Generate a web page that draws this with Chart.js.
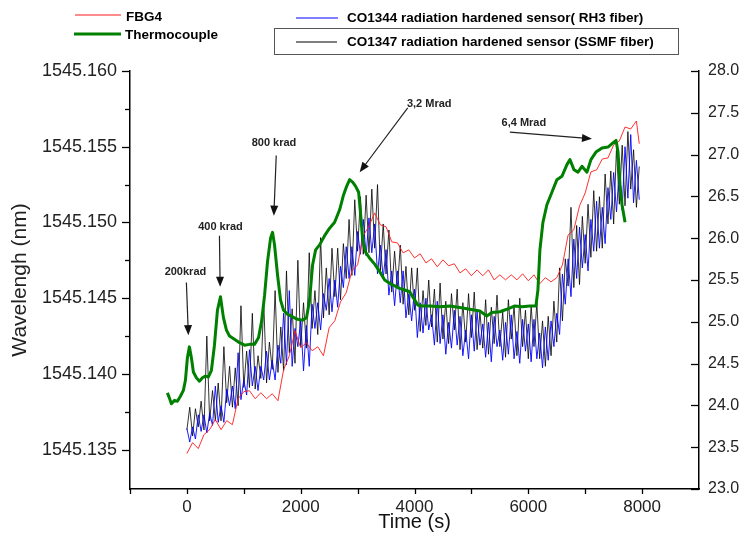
<!DOCTYPE html>
<html><head><meta charset="utf-8">
<script src="https://cdn.jsdelivr.net/npm/chart.js@4/dist/chart.umd.min.js"></script>
<style>html,body{margin:0;padding:0;background:#fff;}#wrap{width:744px;height:538px;}</style>
</head><body><div id="wrap"><canvas id="c" width="744" height="538"></canvas></div>
<script>
// ---------- DATA ----------
const timeFast = [0,50,100,150,200,250,300,350,400,450,500,550,600,650,700,750,800,850,900,950,
1000,1050,1100,1150,1200,1250,1300,1350,1400,1450,1500,1550,1600,1650,1700,1750,1800,1850,1900,1950,
2000,2050,2100,2150,2200,2250,2300,2350,2400,2450,2500,2550,2600,2650,2700,2750,2800,2850,2900,2950,
3000,3050,3100,3150,3200,3250,3300,3350,3400,3450,3500,3550,3600,3650,3700,3750,3800,3850,3900,3950,
4000,4050,4100,4150,4200,4250,4300,4350,4400,4450,4500,4550,4600,4650,4700,4750,4800,4850,4900,4950,
5000,5050,5100,5150,5200,5250,5300,5350,5400,5450,5500,5550,5600,5650,5700,5750,5800,5850,5900,5950,
6000,6050,6100,6150,6200,6250,6300,6350,6400,6450,6500,6550,6600,6650,6700,6750,6800,6850,6900,6950,
7000,7050,7100,7150,7200,7250,7300,7350,7400,7450,7500,7550,7600,7650,7700,7750,7800,7850,7900,7950];

const co1344 = [1545.1364,1545.1355,1545.1365,1545.1357,1545.1373,1545.1362,1545.1373,1545.1361,1545.1374,1545.1366,
1545.1392,1545.1368,1545.1379,1545.1368,1545.1390,1545.1379,1545.1392,1545.1377,1545.1414,1545.1383,
1545.1396,1545.1386,1545.1416,1545.1392,1545.1405,1545.1389,1545.1405,1545.1396,1545.1415,1545.1396,
1545.1409,1545.1396,1545.1419,1545.1407,1545.1440,1545.1406,1545.1455,1545.1405,1545.1430,1545.1418,
1545.1435,1545.1402,1545.1432,1545.1405,1545.1446,1545.1430,1545.1447,1545.1429,1545.1453,1545.1442,
1545.1463,1545.1441,1545.1462,1545.1444,1545.1471,1545.1457,1545.1484,1545.1463,1545.1484,1545.1465,
1545.1494,1545.1479,1545.1502,1545.1478,1545.1503,1545.1480,1545.1499,1545.1466,1545.1485,1545.1463,
1545.1482,1545.1452,1545.1468,1545.1445,1545.1468,1545.1447,1545.1468,1545.1437,1545.1453,1545.1435,
1545.1456,1545.1424,1545.1447,1545.1427,1545.1450,1545.1429,1545.1439,1545.1419,1545.1448,1545.1420,
1545.1439,1545.1413,1545.1434,1545.1417,1545.1442,1545.1419,1545.1438,1545.1412,1545.1429,1545.1410,
1545.1439,1545.1415,1545.1441,1545.1419,1545.1433,1545.1411,1545.1434,1545.1408,1545.1438,1545.1418,
1545.1429,1545.1409,1545.1434,1545.1413,1545.1439,1545.1410,1545.1428,1545.1407,1545.1436,1545.1415,
1545.1433,1545.1408,1545.1436,1545.1410,1545.1427,1545.1404,1545.1431,1545.1409,1545.1435,1545.1418,
1545.1440,1545.1426,1545.1466,1545.1446,1545.1476,1545.1451,1545.1489,1545.1463,1545.1497,1545.1470,
1545.1492,1545.1468,1545.1502,1545.1481,1545.1514,1545.1483,1545.1510,1545.1486,1545.1523,1545.1502,
1545.1533,1545.1507,1545.1535,1545.1508,1545.1550,1545.1516,1545.1558,1545.1513,1545.1541,1545.1515];

const co1347 = [1545.1363,1545.1378,1545.1359,1545.1377,1545.1365,1545.1382,1545.1363,1545.1425,1545.1369,1545.1389,
1545.1369,1545.1394,1545.1369,1545.1418,1545.1381,1545.1405,1545.1378,1545.1404,1545.1379,1545.1445,
1545.1391,1545.1415,1545.1391,1545.1440,1545.1390,1545.1412,1545.1397,1545.1448,1545.1394,1545.1421,
1545.1403,1545.1455,1545.1401,1545.1431,1545.1402,1545.1468,1545.1414,1545.1443,1545.1407,1545.1475,
1545.1418,1545.1447,1545.1417,1545.1480,1545.1430,1545.1455,1545.1426,1545.1490,1545.1437,1545.1470,
1545.1439,1545.1483,1545.1451,1545.1483,1545.1449,1545.1486,1545.1463,1545.1502,1545.1465,1545.1515,
1545.1481,1545.1517,1545.1479,1545.1518,1545.1480,1545.1522,1545.1483,1545.1525,1545.1468,1545.1499,
1545.1466,1545.1495,1545.1454,1545.1481,1545.1456,1545.1485,1545.1446,1545.1471,1545.1439,1545.1470,
1545.1442,1545.1470,1545.1428,1545.1455,1545.1432,1545.1462,1545.1431,1545.1456,1545.1421,1545.1460,
1545.1423,1545.1448,1545.1420,1545.1453,1545.1429,1545.1456,1545.1416,1545.1447,1545.1421,1545.1453,
1545.1424,1545.1454,1545.1416,1545.1441,1545.1417,1545.1449,1545.1413,1545.1444,1545.1420,1545.1452,
1545.1418,1545.1441,1545.1411,1545.1449,1545.1423,1545.1445,1545.1412,1545.1450,1545.1418,1545.1442,
1545.1410,1545.1445,1545.1418,1545.1447,1545.1410,1545.1435,1545.1405,1545.1438,1545.1412,1545.1448,
1545.1421,1545.1470,1545.1435,1545.1476,1545.1458,1545.1510,1545.1457,1545.1498,1545.1459,1545.1504,
1545.1473,1545.1512,1545.1477,1545.1521,1545.1481,1545.1517,1545.1483,1545.1532,1545.1499,1545.1534,
1545.1499,1545.1549,1545.1512,1545.1551,1545.1511,1545.1560,1545.1522,1545.1548,1545.1510,1545.1537];

const timeFbg = [0,100,200,300,400,500,600,700,800,900,1000,1100,1200,1300,1400,1500,1600,1700,1800,1900,
2000,2100,2200,2300,2400,2500,2600,2700,2800,2900,3000,3100,3200,3300,3400,3500,3600,3700,3800,3900,
4000,4100,4200,4300,4400,4500,4600,4700,4800,4900,5000,5100,5200,5300,5400,5500,5600,5700,5800,5900,
6000,6100,6200,6300,6400,6500,6600,6700,6800,6900,7000,7100,7200,7300,7400,7500,7600,7700,7800,7900,7950];

const fbg4 = [1545.13474,1545.13546,1545.13507,1545.13599,1545.13632,1545.13698,1545.13632,1545.13691,1545.13665,1545.13836,
1545.13883,1545.13889,1545.13836,1545.13876,1545.13836,1545.13869,1545.13823,1545.14028,1545.14120,1545.14285,
1545.14173,1545.14206,1545.14153,1545.14179,1545.14120,1545.14305,1545.14351,1545.14476,1545.14536,1545.14681,
1545.14720,1545.14912,1545.14977,1545.15063,1545.14984,1545.14971,1545.14872,1545.14865,1545.14799,1545.14819,
1545.14766,1545.14793,1545.14733,1545.14760,1545.14707,1545.14753,1545.14714,1545.14727,1545.14667,1545.14694,
1545.14648,1545.14687,1545.14648,1545.14687,1545.14621,1545.14654,1545.14621,1545.14654,1545.14621,1545.14661,
1545.14615,1545.14654,1545.14595,1545.14635,1545.14608,1545.14635,1545.14720,1545.14918,1545.14951,1545.15109,
1545.15195,1545.15334,1545.15347,1545.15419,1545.15426,1545.15512,1545.15538,1545.15630,1545.15617,1545.15670,1545.15520];

const timeTc = [-343,-308,-273,-220,-167,-114,-62,-26,9,44,79,114,167,220,273,326,378,431,484,537,
590,642,695,748,836,924,1012,1100,1188,1258,1311,1364,1417,1470,1505,1540,1593,1646,1698,1769,
1857,1945,2033,2103,2156,2209,2262,2332,2420,2508,2596,2684,2754,2807,2860,2913,2966,3018,3054,3089,
3142,3212,3300,3388,3476,3564,3652,3740,3828,3916,3986,4057,4127,4268,4444,4620,4796,4972,5148,5271,
5359,5500,5623,5764,5887,6028,6134,6169,6204,6257,6327,6415,6503,6591,6679,6732,6802,6873,6943,7031,
7101,7189,7295,7400,7488,7542,7577,7612,7647,7700];

const thermocouple = [24.15,24.09,24.02,24.06,24.05,24.11,24.18,24.30,24.57,24.70,24.57,24.40,24.33,24.29,24.33,24.35,24.34,24.42,24.72,25.14,
25.30,25.05,24.90,24.83,24.79,24.75,24.72,24.73,24.73,24.81,25.00,25.31,25.72,26.00,26.07,25.92,25.56,25.26,25.14,25.09,
25.06,25.03,25.02,25.05,25.26,25.68,25.86,25.92,26.03,26.12,26.19,26.34,26.52,26.62,26.70,26.67,26.62,26.55,26.28,25.98,
25.83,25.76,25.69,25.60,25.50,25.46,25.43,25.40,25.38,25.36,25.28,25.20,25.19,25.19,25.18,25.19,25.17,25.15,25.13,25.07,
25.11,25.12,25.15,25.19,25.18,25.19,25.19,25.38,25.86,26.19,26.40,26.55,26.70,26.74,26.88,26.94,26.82,26.79,26.86,26.79,
26.94,27.03,27.08,27.09,27.14,27.17,27.03,26.64,26.40,26.19];

const xTicks = [-1000,0,1000,2000,3000,4000,5000,6000,7000,8000,9000];
const leftTicks = [1545.135,1545.1375,1545.140,1545.1425,1545.145,1545.1475,1545.150,1545.1525,1545.155,1545.1575,1545.160];
const rightTicks = [23,23.25,23.5,23.75,24,24.25,24.5,24.75,25,25.25,25.5,25.75,26,26.25,26.5,26.75,27,27.25,27.5,27.75,28];

const seriesNames = ['FBG4','Thermocouple','CO1344 radiation hardened sensor( RH3 fiber)','CO1347 radiation hardened sensor (SSMF fiber)'];

// dose annotations: label anchor, arrow start, arrow tip (time s, temperature °C on right axis)
const doseNotes = [
  {text:'200krad',  label:[-26,25.60],  from:[-9,25.47],   to:[26,24.84]},
  {text:'400 krad', label:[590,26.13],  from:[572,26.03],  to:[584,25.42]},
  {text:'800 krad', label:[1531,27.14], from:[1570,26.99], to:[1528,26.27]},
  {text:'3,2 Mrad', label:[4259,27.61], from:[3881,27.56], to:[3036,26.79]},
  {text:'6,4 Mrad', label:[5922,27.38], from:[5676,27.27], to:[7119,27.19]}
];

// ---------- CHART ----------
const FONT = '"Liberation Sans", Arial, sans-serif';
Chart.defaults.font.family = FONT;
const COLORS = {fbg:'#ff1a1a', tc:'#008000', rh3:'#0000ff', ssmf:'#000000'};

const pts = (xs, ys) => xs.map((x, i) => ({x: x, y: ys[i]}));
const isMajorL = v => Math.round(v * 10000) % 50 === 0;
const isMajorR = v => Math.round(v * 100) % 50 === 0;

const decor = {
  id: 'decor',
  afterDraw(chart) {
    const ctx = chart.ctx;
    const sx = chart.scales.x, yL = chart.scales.yL, yR = chart.scales.yR;
    ctx.save();
    ctx.strokeStyle = '#000';
    ctx.lineWidth = 1.3;
    // left ticks (outward)
    yL.ticks.forEach(t => {
      const p = Math.round(yL.getPixelForValue(t.value)) + 0.5;
      const len = isMajorL(t.value) ? 8 : 5;
      ctx.beginPath(); ctx.moveTo(yL.right, p); ctx.lineTo(yL.right - len, p); ctx.stroke();
    });
    // right ticks (inward)
    yR.ticks.forEach(t => {
      const p = Math.round(yR.getPixelForValue(t.value)) + 0.5;
      const len = isMajorR(t.value) ? 8 : 6;
      ctx.beginPath(); ctx.moveTo(yR.left, p); ctx.lineTo(yR.left - len, p); ctx.stroke();
    });
    // x ticks (outward)
    sx.ticks.forEach(t => {
      if (t.value >= sx.max) return;
      const p = Math.round(sx.getPixelForValue(t.value)) + 0.5;
      ctx.beginPath(); ctx.moveTo(p, sx.top); ctx.lineTo(p, sx.top + 5); ctx.stroke();
    });

    // dose annotations
    ctx.font = 'bold 11px ' + FONT;
    ctx.textAlign = 'center'; ctx.textBaseline = 'middle';
    doseNotes.forEach(n => {
      const lx = sx.getPixelForValue(n.label[0]), ly = yR.getPixelForValue(n.label[1]);
      ctx.fillStyle = '#222';
      ctx.fillText(n.text, lx, ly);
      const x0 = sx.getPixelForValue(n.from[0]), y0 = yR.getPixelForValue(n.from[1]);
      const x1 = sx.getPixelForValue(n.to[0]), y1 = yR.getPixelForValue(n.to[1]);
      const ang = Math.atan2(y1 - y0, x1 - x0);
      const hl = 10, hw = 4;
      ctx.strokeStyle = '#222'; ctx.lineWidth = 1.2;
      ctx.beginPath(); ctx.moveTo(x0, y0);
      ctx.lineTo(x1 - Math.cos(ang) * hl * 0.8, y1 - Math.sin(ang) * hl * 0.8); ctx.stroke();
      ctx.beginPath();
      ctx.moveTo(x1, y1);
      ctx.lineTo(x1 - Math.cos(ang) * hl - Math.sin(ang) * hw, y1 - Math.sin(ang) * hl + Math.cos(ang) * hw);
      ctx.lineTo(x1 - Math.cos(ang) * hl + Math.sin(ang) * hw, y1 - Math.sin(ang) * hl - Math.cos(ang) * hw);
      ctx.closePath(); ctx.fillStyle = '#111'; ctx.fill();
    });

    // legend
    const ds = chart.data.datasets;
    const legLine = (x0, x1, y, color, w) => {
      ctx.strokeStyle = color; ctx.lineWidth = w;
      ctx.beginPath(); ctx.moveTo(x0, y); ctx.lineTo(x1, y); ctx.stroke();
    };
    ctx.font = 'bold 13.5px ' + FONT;
    ctx.textAlign = 'left'; ctx.textBaseline = 'middle'; ctx.fillStyle = '#000';
    legLine(75, 121, 15, ds[1].borderColor, 1);
    ctx.fillText(ds[1].label, 126, 17);
    legLine(74, 121, 34, ds[0].borderColor, 3);
    ctx.fillText(ds[0].label, 125, 35);
    legLine(296, 338, 18, ds[2].borderColor, 1);
    ctx.fillText(ds[2].label, 347, 18);
    ctx.strokeStyle = '#555'; ctx.lineWidth = 1;
    ctx.strokeRect(274.5, 28.5, 404, 26);
    legLine(296, 337, 42, ds[3].borderColor, 1);
    ctx.fillStyle = '#000';
    ctx.fillText(ds[3].label, 347, 42);
    ctx.restore();
  }
};

new Chart(document.getElementById('c'), {
  type: 'line',
  data: {
    datasets: [
      {label: seriesNames[1], data: pts(timeTc, thermocouple), yAxisID: 'yR', borderColor: COLORS.tc, borderWidth: 3, order: 0},
      {label: seriesNames[0], data: pts(timeFbg, fbg4), yAxisID: 'yL', borderColor: COLORS.fbg, borderWidth: 0.9, order: 1},
      {label: seriesNames[2], data: pts(timeFast, co1344), yAxisID: 'yL', borderColor: COLORS.rh3, borderWidth: 0.9, order: 2},
      {label: seriesNames[3], data: pts(timeFast, co1347), yAxisID: 'yL', borderColor: COLORS.ssmf, borderWidth: 0.8, order: 3}
    ]
  },
  options: {
    responsive: false, animation: false, devicePixelRatio: 1,
    layout: {padding: {top: 71, left: 0, right: 0, bottom: 0}},
    elements: {point: {radius: 0}, line: {tension: 0, borderJoinStyle: 'round'}},
    plugins: {legend: {display: false}, tooltip: {enabled: false}},
    scales: {
      x: {
        type: 'linear', position: 'bottom', min: -1000, max: 9000,
        afterFit(s) { s.height = 49; },
        afterBuildTicks(s) { s.ticks = xTicks.map(v => ({value: v})); },
        grid: {display: false, drawTicks: false},
        border: {display: true, color: '#000', width: 1.5},
        ticks: {autoSkip: false, maxRotation: 0, padding: 8, color: '#222', font: {size: 17},
          callback: v => (v % 2000 === 0 && v >= 0 && v <= 8000) ? String(v) : ''},
        title: {display: true, text: 'Time (s)', color: '#111', font: {size: 20}, padding: {top: 0, bottom: 4}}
      },
      yL: {
        type: 'linear', position: 'left', min: 1545.1324, max: 1545.160,
        afterFit(s) { s.width = 130; },
        afterBuildTicks(s) { s.ticks = leftTicks.map(v => ({value: v})); },
        grid: {display: false, drawTicks: false},
        border: {display: true, color: '#000', width: 1.5},
        ticks: {padding: 13, color: '#222', font: {size: 18},
          callback: v => isMajorL(v) ? v.toFixed(3) : ''},
        title: {display: true, text: 'Wavelengh (nm)', color: '#222', font: {size: 21}, padding: {top: 8, bottom: 0}}
      },
      yR: {
        type: 'linear', position: 'right', min: 23, max: 28,
        afterFit(s) { s.width = 45; },
        afterBuildTicks(s) { s.ticks = rightTicks.map(v => ({value: v})); },
        grid: {display: false, drawTicks: false},
        border: {display: true, color: '#000', width: 1.5},
        ticks: {padding: 9, color: '#222', font: {size: 16},
          callback: v => isMajorR(v) ? v.toFixed(1) : ''}
      }
    }
  },
  plugins: [decor]
});
</script>
</body></html>
